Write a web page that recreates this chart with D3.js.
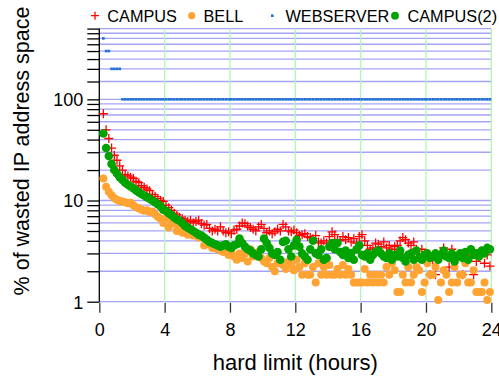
<!DOCTYPE html>
<html>
<head>
<meta charset="utf-8">
<script src="https://cdn.jsdelivr.net/npm/d3@7"></script>
<style>
  body { margin: 0; background: #fff; }
  svg { display: block; }
  text { font-family: 'Liberation Sans', Arial, Helvetica, sans-serif; fill: #000; }
</style>
</head>
<body>
<div id="chart"></div>
<script>
// samples every 10 minutes, first one at 15 min
var firstHour = 0.25
var stepHour = 1 / 6

var campus = [
  72, 50, 41, 33, 28, 25, 22, 20, 18, 17.5, 17, 16.5,
  15.5, 15, 14, 13.5, 13, 12.5, 11.5, 11, 10.5, 10, 9.8, 9.0,
  8.5, 8.0, 7.5, 7.2, 6.8, 6.6, 6.4, 6.2, 6.4, 6.0, 6.2, 6.4,
  5.9, 5.7, 5.8, 5.3, 5.0, 5.2, 5.0, 5.5, 5.0, 4.8, 4.9, 4.7,
  5.1, 5.2, 5.6, 6.0, 5.9, 5.6, 5.4, 5.2, 5.0, 5.5, 5.8, 5.3,
  4.8, 5.0, 4.7, 4.9, 5.2, 5.0, 5.8, 5.5, 5.0, 4.9, 5.1, 4.8,
  4.5, 4.6, 4.7, 4.4, 4.3, 4.2, 4.5, 3.9, 3.8, 4.0, 3.8, 4.4,
  4.9, 4.6, 4.1, 4.0, 4.4, 4.1, 4.3, 3.9, 4.2, 3.8, 4.4, 4.6,
  4.0, 3.6, 3.3, 3.4, 3.8, 3.7, 3.5, 3.9, 3.4, 3.6, 3.3, 3.5,
  3.6, 4.0, 4.3, 4.1, 3.8, 3.6, 3.9, 3.3, 2.8, 3.3, 2.9, 3.0,
  1.85, 2.6, 1.85, 2.8, 3.1, 3.4, 3.0, 2.2, 3.3, 2.8, 2.6, 3.0,
  1.85, 2.9, 2.7, 3.1, 1.85, 2.5, 2.8, 3.0, 2.4, 2.9, 2.25
]

var bell = [
  16.5, 13.7, 12.2, 11.3, 10.6, 10.2, 9.9, 9.8, 9.6, 9.4, 9.5, 9.0,
  8.6, 8.4, 8.1, 7.9, 8.0, 7.7, 7.8, 7.3, 6.9, 6.6, 6.0, 6.6,
  5.4, 6.3, 5.9, 5.0, 5.3, 4.8, 5.1, 4.6, 4.8, 4.5, 4.6, 4.3,
  4.4, 3.6, 4.1, 3.7, 3.4, 3.6, 3.3, 3.2, 3.1, 3.3, 2.9, 3.1,
  2.8, 2.6, 3.0, 2.7, 3.0, 2.5, 3.3, 2.8, 2.9, 3.1, 2.7, 2.5,
  2.4, 2.7, 2.2, 2.0, 2.4, 2.5, 2.3, 2.1, 2.5, 2.3, 2.05, 2.6,
  2.2, 1.85, 2.4, 1.85, 1.85, 2.2, 1.55, 2.4, 1.85, 2.2, 1.85, 2.3,
  1.85, 1.85, 2.1, 1.85, 2.3, 1.85, 2.1, 1.85, 1.55, 1.55, 1.55, 1.55,
  2.1, 1.55, 1.85, 1.55, 1.85, 1.55, 1.85, 1.55, 2.2, 1.85, 2.4, 2.05,
  1.25, 1.25, 1.85, 1.55, 2.2, 1.55, 1.85, 2.2, 2.05, 1.25, 1.55, 2.4,
  1.85, 1.85, 2.2, 1.04, 1.55, 2.05, 1.85, 1.25, 1.55, 2.2, 1.55, 1.85,
  1.85, 2.4, 1.55, 1.55, 2.05, 1.25, 1.25, 1.25, 1.55, 1.04, 1.25
]

var webserver = [
  400, 300, 300, 200, 200, 200, 200,
  100, 100, 100, 100, 100, 100, 100, 100, 100, 100, 100, 100, 100, 100, 100, 100, 100,
  100, 100, 100, 100, 100, 100, 100, 100, 100, 100, 100, 100, 100, 100, 100, 100, 100,
  100, 100, 100, 100, 100, 100, 100, 100, 100, 100, 100, 100, 100, 100, 100, 100, 100,
  100, 100, 100, 100, 100, 100, 100, 100, 100, 100, 100, 100, 100, 100, 100, 100, 100,
  100, 100, 100, 100, 100, 100, 100, 100, 100, 100, 100, 100, 100, 100, 100, 100, 100,
  100, 100, 100, 100, 100, 100, 100, 100, 100, 100, 100, 100, 100, 100, 100, 100, 100,
  100, 100, 100, 100, 100, 100, 100, 100, 100, 100, 100, 100, 100, 100, 100, 100, 100,
  100, 100, 100, 100, 100, 100, 100, 100, 100, 100, 100, 100, 100, 100, 100, 100, 100
]

var campus2 = [
  46, 33, 27.5, 23, 20, 18.5, 17, 16, 15, 14.3, 13.8, 13.2,
  12.6, 12.1, 11.6, 11.2, 10.8, 10.4, 10.0, 9.6, 9.2, 8.8, 8.1, 7.9,
  7.5, 7.2, 6.8, 6.5, 6.3, 6.0, 5.6, 5.4, 5.2, 5.0, 4.8, 4.6,
  4.5, 4.3, 4.1, 3.9, 3.8, 3.7, 3.6, 3.5, 3.6, 3.7, 3.5, 3.4,
  3.6, 3.7, 4.2, 3.8, 3.5, 3.3, 3.2, 3.0, 2.9, 2.8, 3.3, 4.2,
  3.8, 3.4, 3.0, 2.9, 3.1, 2.6, 3.9, 4.0, 3.3, 2.8, 3.6, 4.1,
  3.5, 3.0, 2.8, 2.6, 3.3, 4.0, 3.0, 2.9, 3.3, 2.6, 2.7, 3.5,
  3.8, 3.3, 3.8, 3.1, 2.9, 3.2, 2.7, 3.0, 2.6, 3.3, 3.6, 2.9,
  2.8, 3.0, 2.6, 2.9, 3.1, 3.2, 3.0, 2.8, 2.7, 3.0, 2.6, 2.9,
  2.8, 3.2, 2.7, 2.5, 2.9, 3.0, 2.6, 3.2, 2.7, 2.6, 2.9, 3.0,
  2.7, 2.8, 3.0, 2.6, 2.9, 3.2, 2.8, 2.7, 3.0, 2.5, 2.8, 3.0,
  2.7, 3.1, 2.6, 3.3, 2.9, 3.0, 2.8, 3.2, 3.0, 3.4, 3.3
]

var xTicks = [0, 4, 8, 12, 16, 20, 24]
var yTicks = [1, 2, 3, 4, 5, 6, 7, 8, 9, 10, 20, 30, 40, 50, 60, 70, 80, 90,
  100, 150, 200, 250, 300, 350, 400, 450, 500]
var yLabels = [1, 10, 100]

var width = 499, height = 378
var margin = {top: 28.6, right: 7.7, bottom: 76.3, left: 99.3}

var svg = d3.select('#chart').append('svg')
    .attr('width', width)
    .attr('height', height)

var x = d3.scaleLinear()
    .domain([0, 24])
    .range([margin.left, width - margin.right])

var y = d3.scaleLog()
    .domain([1, 500])
    .range([height - margin.bottom, margin.top])

function hourOf(i) { return firstHour + i * stepHour }

// grid
svg.append('g').selectAll('line')
    .data(yTicks)
  .enter().append('line')
    .attr('x1', x(0)).attr('x2', x(24))
    .attr('y1', function(d) { return y(d) }).attr('y2', function(d) { return y(d) })
    .attr('stroke', '#a4a4f4')
    .attr('stroke-width', 1.3)

svg.append('g').selectAll('line')
    .data(xTicks.slice(1))
  .enter().append('line')
    .attr('x1', function(d) { return x(d) }).attr('x2', function(d) { return x(d) })
    .attr('y1', y(1)).attr('y2', y(500))
    .attr('stroke', '#b4f4b4')
    .attr('stroke-width', 1.3)

// y axis
var yAxis = d3.axisLeft(y)
    .tickValues(yTicks)
    .tickSize(12)
    .tickPadding(4)
    .tickFormat(function(d) { return yLabels.indexOf(d) >= 0 ? d : '' })

var gy = svg.append('g')
    .attr('transform', 'translate(' + x(0) + ',0)')
    .call(yAxis)
gy.select('.domain').attr('d', 'M0,' + y(1) + 'V' + y(500)).attr('stroke-width', 1.3)
gy.selectAll('.tick line').attr('stroke-width', 1.3)
gy.selectAll('.tick text')
    .attr('font-size', '18px')
    .attr('font-family', "'Liberation Sans', Arial, sans-serif")
    .attr('dy', '0.36em')

// x axis
var xAxis = d3.axisBottom(x)
    .tickValues(xTicks)
    .tickSize(10)
    .tickPadding(11)

var gx = svg.append('g')
    .attr('transform', 'translate(0,' + (y(1) + 1) + ')')
    .call(xAxis)
gx.select('.domain').remove()
gx.selectAll('.tick line').attr('stroke-width', 1.3).attr('stroke', '#333')
gx.selectAll('.tick text')
    .attr('font-size', '18px')
    .attr('font-family', "'Liberation Sans', Arial, sans-serif")

// axis titles
svg.append('text')
    .attr('x', (x(0) + x(24)) / 2)
    .attr('y', 370)
    .attr('text-anchor', 'middle')
    .attr('font-size', '22px')
    .text('hard limit (hours)')

svg.append('text')
    .attr('transform', 'translate(29,' + 151 + ') rotate(-90)')
    .attr('text-anchor', 'middle')
    .attr('font-size', '21.5px')
    .text('% of wasted IP address space')

// series
var plot = svg.append('g')

plot.append('g').selectAll('path')
    .data(campus)
  .enter().append('path')
    .attr('d', function(d, i) {
      var cx = x(hourOf(i)), cy = y(d)
      return 'M' + (cx - 4.5) + ',' + cy + 'H' + (cx + 4.5) + 'M' + cx + ',' + (cy - 4.5) + 'V' + (cy + 4.5)
    })
    .attr('stroke', '#ff0000')
    .attr('stroke-width', 1.3)
    .attr('fill', 'none')

plot.append('g').selectAll('circle')
    .data(bell)
  .enter().append('circle')
    .attr('cx', function(d, i) { return x(hourOf(i)) })
    .attr('cy', function(d) { return y(d) })
    .attr('r', 4)
    .attr('fill', '#ffa332')

plot.append('g').selectAll('rect')
    .data(webserver)
  .enter().append('rect')
    .attr('x', function(d, i) { return x(hourOf(i)) - 1.3 })
    .attr('y', function(d) { return y(d) - 1.3 })
    .attr('width', 2.6)
    .attr('height', 2.6)
    .attr('fill', '#1f6fd6')

plot.append('g').selectAll('circle')
    .data(campus2)
  .enter().append('circle')
    .attr('cx', function(d, i) { return x(hourOf(i)) })
    .attr('cy', function(d) { return y(d) })
    .attr('r', 4.3)
    .attr('fill', '#00a300')

// legend
var legendY = 15.7
var legend = svg.append('g')

legend.append('path')
    .attr('d', 'M91,' + legendY + 'H99M95,' + (legendY - 4) + 'V' + (legendY + 4))
    .attr('stroke', '#ff0000').attr('stroke-width', 1.3)
legend.append('circle').attr('cx', 191.7).attr('cy', legendY).attr('r', 3.6).attr('fill', '#ffa332')
legend.append('rect').attr('x', 271).attr('y', legendY - 1.3).attr('width', 2.6).attr('height', 2.6).attr('fill', '#1f6fd6')
legend.append('circle').attr('cx', 395).attr('cy', legendY).attr('r', 3.9).attr('fill', '#00a300')

var legendItems = [
  {label: 'CAMPUS', x: 107.3},
  {label: 'BELL', x: 203.5},
  {label: 'WEBSERVER', x: 285.5},
  {label: 'CAMPUS(2)', x: 407.5}
]
legend.selectAll('text.lab')
    .data(legendItems)
  .enter().append('text')
    .attr('class', 'lab')
    .attr('x', function(d) { return d.x })
    .attr('y', 21.5)
    .attr('font-size', '16.3px')
    .text(function(d) { return d.label })
</script>
</body>
</html>
